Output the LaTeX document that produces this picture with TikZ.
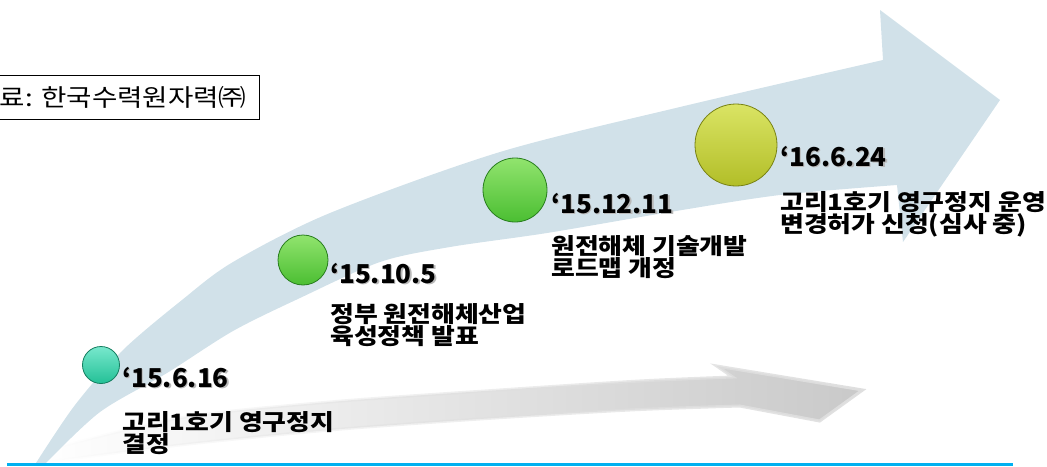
\documentclass[tikz,border=0pt]{standalone}
\usepackage{fontspec}
\setmainfont{Noto Sans CJK KR}
\usepackage{tikz}
\usetikzlibrary{positioning, fadings}
\usepackage{xcolor}

\definecolor{bandblue}{RGB}{209,225,233}
\definecolor{lineblue}{RGB}{0,176,240}
\definecolor{tealbase}{RGB}{35,192,150}
\definecolor{teallight}{RGB}{120,232,205}
\definecolor{tealedge}{RGB}{20,125,95}
\definecolor{greenbase}{RGB}{75,190,50}
\definecolor{greenlight}{RGB}{145,228,110}
\definecolor{greenedge}{RGB}{40,125,30}
\definecolor{olivebase}{RGB}{178,190,40}
\definecolor{olivelight}{RGB}{218,228,100}
\definecolor{oliveedge}{RGB}{120,130,20}

\tikzfading[name=fadeleft, left color=transparent!100, right color=transparent!0]

\newcommand{\shdate}[1]{\rlap{\color{gray!55}\raisebox{-1.5pt}{\kern1.5pt#1}}#1}

\begin{document}
\begin{tikzpicture}[x=1pt,y=-1pt,
    ball/.style={circle, inner sep=0pt, line width=0.8pt},
    datetext/.style={font=\fontsize{26}{28}\selectfont\bfseries, inner sep=0pt, anchor=base west},
    desctext/.style={font=\fontsize{22.5}{22.5}\selectfont\bfseries\addfontfeature{FakeStretch=1.15},
                     inner sep=0pt, align=left, anchor=north west}]
    \clip (0,0) rectangle (1047,466);

    % shadow arrow
    \fill[gray!42, draw=gray!25, line width=3pt, path fading=fadeleft]
        plot[smooth] coordinates {(40,452) (180,418) (330,402) (500,390) (640,381) (733,377)}
        -- (717,366) -- (863,390) -- (820,421)
        -- plot[smooth] coordinates {(740,406) (630,410) (480,419) (330,430) (180,445) (40,463)} -- cycle;

    % main arrow
    \fill[bandblue]
        plot[smooth] coordinates {(36,463) (75,405) (123,350) (182,300) (233,262) (330,213) (500,152) (680,107) (883,60)}
        -- (880,10) -- (1000,100) -- (903,242)
        -- plot[smooth] coordinates {(897,185) (780,195) (670,212) (547,233) (450,247) (380,262) (300,298) (233,331) (167,373) (100,412) (46,463)} -- cycle;

    \draw[lineblue, line width=2.5pt] (7,464.5) -- (1013,464.5);

    \node[draw, line width=0.8pt, anchor=east, minimum height=44pt, inner xsep=13pt,
          font=\fontsize{24}{26}\selectfont\addfontfeature{FakeStretch=1.15}] (src) at (260,97) {자료: 한국수력원자력㈜};

    \node[ball, minimum size=37pt, draw=tealedge, top color=teallight, bottom color=tealbase] (b1) at (101,365) {};
    \node[ball, minimum size=50pt, draw=greenedge, top color=greenlight, bottom color=greenbase] (b2) at (303,260) {};
    \node[ball, minimum size=64pt, draw=greenedge, top color=greenlight, bottom color=greenbase] (b3) at (515,190) {};
    \node[ball, minimum size=82pt, draw=oliveedge, top color=olivelight, bottom color=olivebase] (b4) at (736,145) {};

    \node[datetext] (d1) at (122,387) {\shdate{\symbol{96}15.6.16}};
    \node[datetext] (d2) at (330,283) {\shdate{\symbol{96}15.10.5}};
    \node[datetext] (d3) at (551,213) {\shdate{\symbol{96}15.12.11}};
    \node[datetext] (d4) at (780,166) {\shdate{\symbol{96}16.6.24}};

    \node[desctext] (t1) [below=22pt of d1.south west, anchor=north west] {고리1호기 영구정지\\결정};
    \node[desctext] (t2) [below=18pt of d2.south west, anchor=north west] {정부 원전해체산업\\육성정책 발표};
    \node[desctext] (t3) [below=20pt of d3.south west, anchor=north west] {원전해체 기술개발\\로드맵 개정};
    \node[desctext] (t4) [below=23pt of d4.south west, anchor=north west] {고리1호기 영구정지 운영\\변경허가 신청(심사 중)};
\end{tikzpicture}
\end{document}
